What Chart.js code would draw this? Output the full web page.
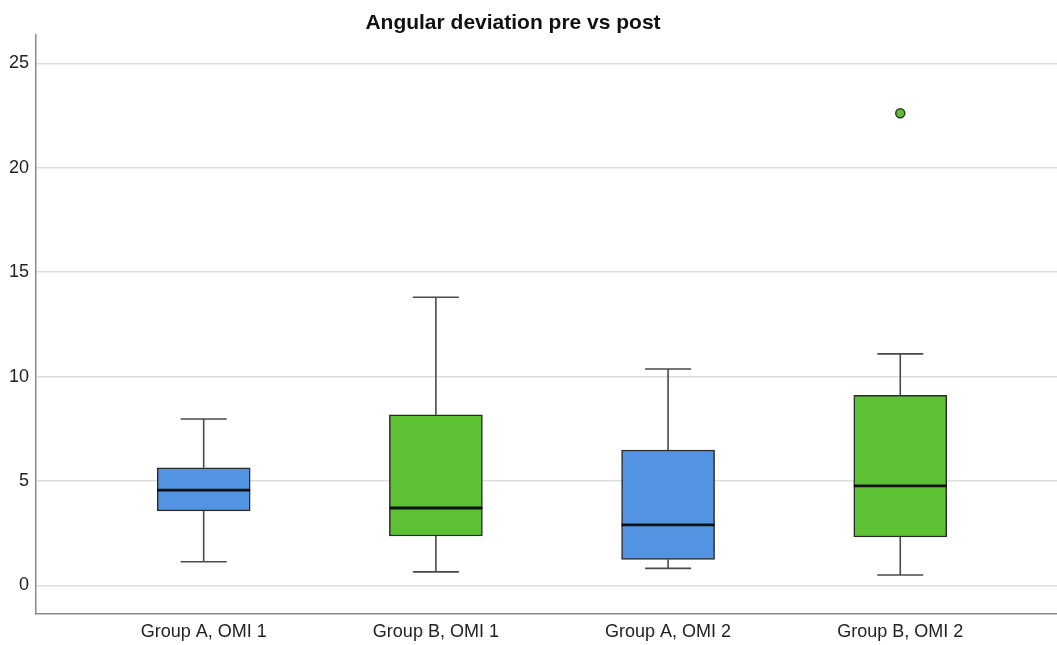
<!DOCTYPE html>
<html>
<head>
<meta charset="utf-8">
<script src="https://cdn.jsdelivr.net/npm/chart.js@4/dist/chart.umd.min.js"></script>
<style>
  html, body { margin: 0; padding: 0; background: #ffffff; overflow: hidden; }
  canvas { display: block; }
</style>
</head>
<body>
<canvas id="c" width="1057" height="645" style="width:1057px;height:645px"></canvas>
<script>
const chartTitle = 'Angular deviation pre vs post';
const categories = ['Group A, OMI 1', 'Group B, OMI 1', 'Group A, OMI 2', 'Group B, OMI 2'];
const whiskerLow = [1.14, 0.65, 0.82, 0.50];
const q1 = [3.57, 2.37, 1.25, 2.32];
const median = [4.57, 3.71, 2.90, 4.77];
const q3 = [5.64, 8.17, 6.49, 9.11];
const whiskerHigh = [7.97, 13.80, 10.37, 11.09];
const outliers = [[], [], [], [22.61]];
const yTicks = [0, 5, 10, 15, 20, 25];

const BLUE = '#5294E2';
const GREEN = '#5DC233';
const boxFill = [BLUE, GREEN, BLUE, GREEN];

const boxData = categories.map((c, i) => ({ x: i + 1, y: [q1[i], q3[i]] }));
const outlierData = [];
outliers.forEach((arr, i) => arr.forEach(v => outlierData.push({ x: i + 1, y: v })));

const boxPlugin = {
  id: 'boxParts',
  beforeDatasetsDraw(chart) {
    const ctx = chart.ctx, xs = chart.scales.x, ys = chart.scales.y;
    const capHalf = 23;
    ctx.save();
    ctx.strokeStyle = '#4a4a4a';
    ctx.lineWidth = 1.6;
    categories.forEach((c, i) => {
      const x = xs.getPixelForValue(i + 1);
      const yl = ys.getPixelForValue(whiskerLow[i]);
      const yh = ys.getPixelForValue(whiskerHigh[i]);
      const y1 = ys.getPixelForValue(q1[i]);
      const y3 = ys.getPixelForValue(q3[i]);
      ctx.beginPath();
      ctx.moveTo(x, yh); ctx.lineTo(x, y3);
      ctx.moveTo(x, y1); ctx.lineTo(x, yl);
      ctx.moveTo(x - capHalf, yh); ctx.lineTo(x + capHalf, yh);
      ctx.moveTo(x - capHalf, yl); ctx.lineTo(x + capHalf, yl);
      ctx.stroke();
    });
    ctx.restore();
  },
  afterDatasetsDraw(chart) {
    const ctx = chart.ctx, xs = chart.scales.x, ys = chart.scales.y;
    const meta = chart.getDatasetMeta(0);
    ctx.save();
    ctx.strokeStyle = '#111111';
    ctx.lineWidth = 2.8;
    categories.forEach((c, i) => {
      const bar = meta.data[i];
      const half = bar.width / 2;
      const x = xs.getPixelForValue(i + 1);
      const ym = ys.getPixelForValue(median[i]);
      ctx.beginPath();
      ctx.moveTo(x - half, ym); ctx.lineTo(x + half, ym);
      ctx.stroke();
    });
    ctx.restore();
  },
  afterDraw(chart) {
    const ctx = chart.ctx;
    ctx.save();
    ctx.fillStyle = '#111111';
    ctx.font = 'bold 21px "Liberation Sans", Arial, sans-serif';
    ctx.textAlign = 'center';
    ctx.textBaseline = 'alphabetic';
    ctx.fillText(chartTitle, 513, 29);
    ctx.restore();
  }
};

new Chart(document.getElementById('c'), {
  type: 'bar',
  data: {
    datasets: [
      {
        type: 'bar',
        data: boxData,
        backgroundColor: boxFill,
        borderColor: '#2a2a2a',
        borderWidth: 1.5,
        borderSkipped: false,
        barThickness: 93,
        order: 2
      },
      {
        type: 'scatter',
        data: outlierData,
        pointRadius: 4.5,
        pointBackgroundColor: GREEN,
        pointBorderColor: '#333333',
        pointBorderWidth: 1.5,
        order: 1
      }
    ]
  },
  options: {
    responsive: false,
    animation: false,
    devicePixelRatio: 1,
    layout: { autoPadding: false, padding: { top: 35, right: 0, left: 0, bottom: 0 } },
    plugins: {
      legend: { display: false },
      tooltip: { enabled: false },
      title: { display: false }
    },
    scales: {
      x: {
        type: 'linear',
        offset: false,
        min: 0.2778,
        max: 4.675,
        afterBuildTicks(axis) { axis.ticks = [1, 2, 3, 4].map(v => ({ value: v })); },
        afterFit(axis) { axis.height = 31; axis.paddingLeft = 0; axis.paddingRight = 0; },
        grid: { display: false, drawTicks: false },
        border: { display: true, color: '#8a8a8a', width: 1.5 },
        ticks: {
          autoSkip: false,
          maxRotation: 0,
          padding: 7,
          color: '#222222',
          font: { family: '"Liberation Sans", Arial, sans-serif', size: 18 },
          callback: (v) => categories[v - 1]
        }
      },
      y: {
        type: 'linear',
        min: -1.365,
        max: 26.36,
        afterBuildTicks(axis) { axis.ticks = yTicks.map(v => ({ value: v })); },
        afterFit(axis) { axis.width = 36; axis.paddingTop = 0; axis.paddingBottom = 0; },
        grid: { color: '#dddddd', lineWidth: 1.5, drawTicks: false },
        border: { display: true, color: '#8a8a8a', width: 1.5 },
        ticks: {
          padding: 7,
          color: '#222222',
          font: { family: '"Liberation Sans", Arial, sans-serif', size: 18 }
        }
      }
    }
  },
  plugins: [boxPlugin]
});
</script>
</body>
</html>
